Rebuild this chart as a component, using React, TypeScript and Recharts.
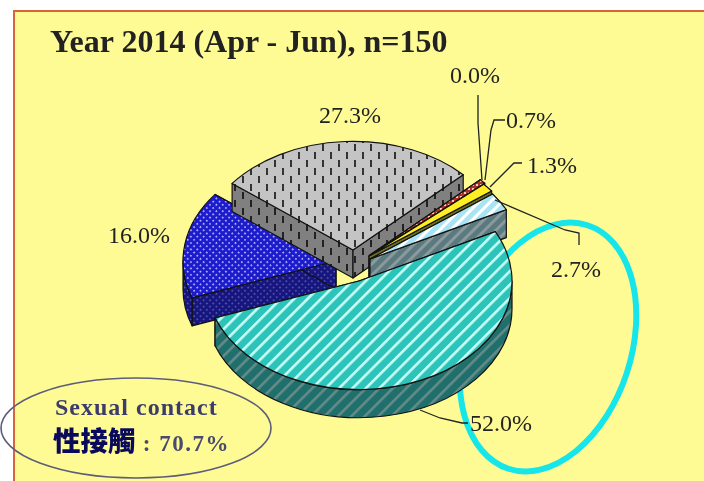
import { Pie, PieChart } from 'recharts';

// clockwise from the blue slice, so that the teal one is painted last
const VALUES = [16.0, 27.3, 0.0, 0.7, 1.3, 2.7, 52.0];
const TITLE = 'Year 2014 (Apr - Jun), n=150';
const NOTE_EN = 'Sexual contact';
const NOTE_ZH = '性接觸';
const NOTE_VALUE = ' : 70.7%';

const START_ANGLE = -160.2;
const TILT = 0.71;
const DEPTH = 28;
const FONT = '"Liberation Serif", serif';

// explode offset, top fill and side fill of each slice
const OFFSETS = [
  [-24, -16],
  [-7, -27],
  [10, -22],
  [10, -22],
  [9, -21],
  [10, -18],
  [-1, 4],
];
const TOP_FILLS = ['url(#blueTop)', 'url(#greyTop)', '#b03030', 'url(#redTop)', '#ffee22', 'url(#lightTop)', 'url(#tealTop)'];
const SIDE_FILLS = ['url(#blueSide)', 'url(#greySide)', '#702020', '#702020', '#6f6f20', 'url(#lightSide)', 'url(#tealSide)'];

// label anchor (x, baseline) and leader line of each slice
const LABEL_POS = [
  [108, 243],
  [319, 123],
  [450, 83],
  [506, 128],
  [527, 173],
  [551, 277],
  [470, 431],
];
const LEADERS = [
  '',
  '',
  '478,95 478,123 482,180',
  '505,120 494,120 491,130 485,180',
  '522,163 514,163 490,187',
  '495,200 565,230 579,233 579,245',
  '420,410 440,418 462,423 468,423',
];

const point = (cx: number, cy: number, r: number, deg: number) => {
  const a = (deg * Math.PI) / 180;
  return [cx + r * Math.cos(a), cy - r * TILT * Math.sin(a)];
};

function Slice3D(props: any) {
  const { cx, cy, outerRadius: r, startAngle, endAngle, index } = props;
  const rawLo = Math.min(startAngle, endAngle);
  const turn = -Math.floor(rawLo / 360) * 360;
  const lo = rawLo + turn;
  const hi = Math.max(startAngle, endAngle) + turn;
  if (hi - lo < 0.01) return <g />;
  const [dx, dy] = OFFSETS[index];
  const x = cx + dx;
  const y = cy + dy;
  const ry = r * TILT;
  const [x1, y1] = point(x, y, r, hi);
  const [x2, y2] = point(x, y, r, lo);
  const large = hi - lo > 180 ? 1 : 0;
  const top = `M${x},${y}L${x1},${y1}A${r},${ry} 0 ${large} 1 ${x2},${y2}Z`;
  const face = (px: number, py: number) =>
    `M${x},${y}L${px},${py}L${px},${py + DEPTH}L${x},${y + DEPTH}Z`;

  // the outer wall only shows along the front half of the ellipse
  const from = Math.max(lo, 180);
  const to = Math.min(hi, 360);
  const side = SIDE_FILLS[index];
  const edge = { stroke: '#111', strokeWidth: 1.2, strokeLinejoin: 'round' as const };
  let wall = '';
  if (to > from) {
    const [ax, ay] = point(x, y, r, from);
    const [bx, by] = point(x, y, r, to);
    wall = `M${ax},${ay}A${r},${ry} 0 0 0 ${bx},${by}L${bx},${by + DEPTH}A${r},${ry} 0 0 1 ${ax},${ay + DEPTH}Z`;
  }

  return (
    <g>
      <path d={face(x1, y1)} fill={side} {...edge} />
      <path d={face(x2, y2)} fill={side} {...edge} />
      {wall && <path d={wall} fill={side} {...edge} />}
      <path d={top} fill={TOP_FILLS[index]} {...edge} />
    </g>
  );
}

function SliceLabel(props: any) {
  const { index, value } = props;
  const [x, y] = LABEL_POS[index];
  return (
    <g>
      {LEADERS[index] && <polyline points={LEADERS[index]} fill="none" stroke="#222" strokeWidth={1.3} />}
      <text x={x} y={y} fontFamily={FONT} fontSize={24} fill="#222">
        {value.toFixed(1)}%
      </text>
    </g>
  );
}

export default function App() {
  const data = VALUES.map((value, i) => ({ name: `slice${i}`, value }));

  return (
    <div style={{ position: 'absolute', left: 0, top: 0, width: 704, height: 481, background: '#fff', overflow: 'hidden', filter: 'blur(0.5px)' }}>
      <div style={{ position: 'absolute', left: 13, top: 10, width: 720, height: 500, background: '#fffb94', border: '2px solid #d9643a' }} />
      <div style={{ position: 'absolute', left: 0, top: 0 }}>
        <PieChart width={704} height={481} margin={{ top: 0, right: 0, bottom: 0, left: 0 }}>
          <defs>
            <pattern id="tealTop" width="9.5" height="9.5" patternUnits="userSpaceOnUse" patternTransform="rotate(45)">
              <rect width="9.5" height="9.5" fill="#2cc4ba" />
              <rect width="2.6" height="9.5" fill="#c8fff6" />
            </pattern>
            <pattern id="tealSide" width="9.5" height="9.5" patternUnits="userSpaceOnUse" patternTransform="rotate(45)">
              <rect width="9.5" height="9.5" fill="#1f6f6c" />
              <rect width="2.6" height="9.5" fill="#658a88" />
            </pattern>
            <pattern id="lightTop" width="8" height="8" patternUnits="userSpaceOnUse" patternTransform="rotate(45)">
              <rect width="8" height="8" fill="#a8e4f4" />
              <rect width="3" height="8" fill="#ffffff" />
            </pattern>
            <pattern id="lightSide" width="8" height="8" patternUnits="userSpaceOnUse" patternTransform="rotate(45)">
              <rect width="8" height="8" fill="#5a7a80" />
              <rect width="3" height="8" fill="#8a9a9c" />
            </pattern>
            <pattern id="blueTop" width="4.5" height="4.5" patternUnits="userSpaceOnUse" patternTransform="rotate(45)">
              <rect width="4.5" height="4.5" fill="#1c1ccc" />
              <rect width="1.6" height="1.6" fill="#c4c4ff" />
            </pattern>
            <pattern id="blueSide" width="4.5" height="4.5" patternUnits="userSpaceOnUse" patternTransform="rotate(45)">
              <rect width="4.5" height="4.5" fill="#16167e" />
              <rect width="1.6" height="1.6" fill="#5a5ab4" />
            </pattern>
            <pattern id="greyTop" width="16" height="16" patternUnits="userSpaceOnUse">
              <rect width="16" height="16" fill="#c4c4c4" />
              <rect x="2" y="0" width="2" height="7" fill="#333" />
              <rect x="10" y="8" width="2" height="7" fill="#333" />
            </pattern>
            <pattern id="greySide" width="16" height="16" patternUnits="userSpaceOnUse">
              <rect width="16" height="16" fill="#808080" />
              <rect x="2" y="0" width="2" height="7" fill="#222" />
              <rect x="10" y="8" width="2" height="7" fill="#222" />
            </pattern>
            <pattern id="redTop" width="4" height="4" patternUnits="userSpaceOnUse">
              <rect width="4" height="4" fill="#b03030" />
              <rect width="2" height="2" fill="#f4d0b0" />
            </pattern>
          </defs>
          <text x={50} y={52} fontFamily={FONT} fontSize={32} fontWeight="bold" fill="#222">
            {TITLE}
          </text>
          <Pie
            data={data}
            dataKey="value"
            nameKey="name"
            cx={360}
            cy={277}
            innerRadius={0}
            outerRadius={153}
            startAngle={START_ANGLE}
            endAngle={START_ANGLE - 360}
            shape={Slice3D}
            label={SliceLabel}
            labelLine={false}
            isAnimationActive={false}
          />
          <ellipse cx={548} cy={347} rx={83} ry={128} transform="rotate(18 548 347)" fill="none" stroke="#16e6ea" strokeWidth={6} />
          <ellipse cx={136} cy={428} rx={135} ry={50} fill="none" stroke="#5c5c7c" strokeWidth={1.6} />
          <text x={55} y={415} fontFamily={FONT} fontSize={24} fontWeight="bold" letterSpacing={1} fill="#3c3c6c">
            {NOTE_EN}
          </text>
          <text x={53} y={451} fontFamily={FONT} fontSize={23} fontWeight="bold" letterSpacing={1.5} fill="#4a4a6e">
            <tspan fontFamily={'"Noto Sans CJK TC"'} fontWeight={900} fill="#0a0a5c" fontSize={27.5} letterSpacing={0}>
              {NOTE_ZH}
            </tspan>
            {NOTE_VALUE}
          </text>
        </PieChart>
      </div>
    </div>
  );
}
